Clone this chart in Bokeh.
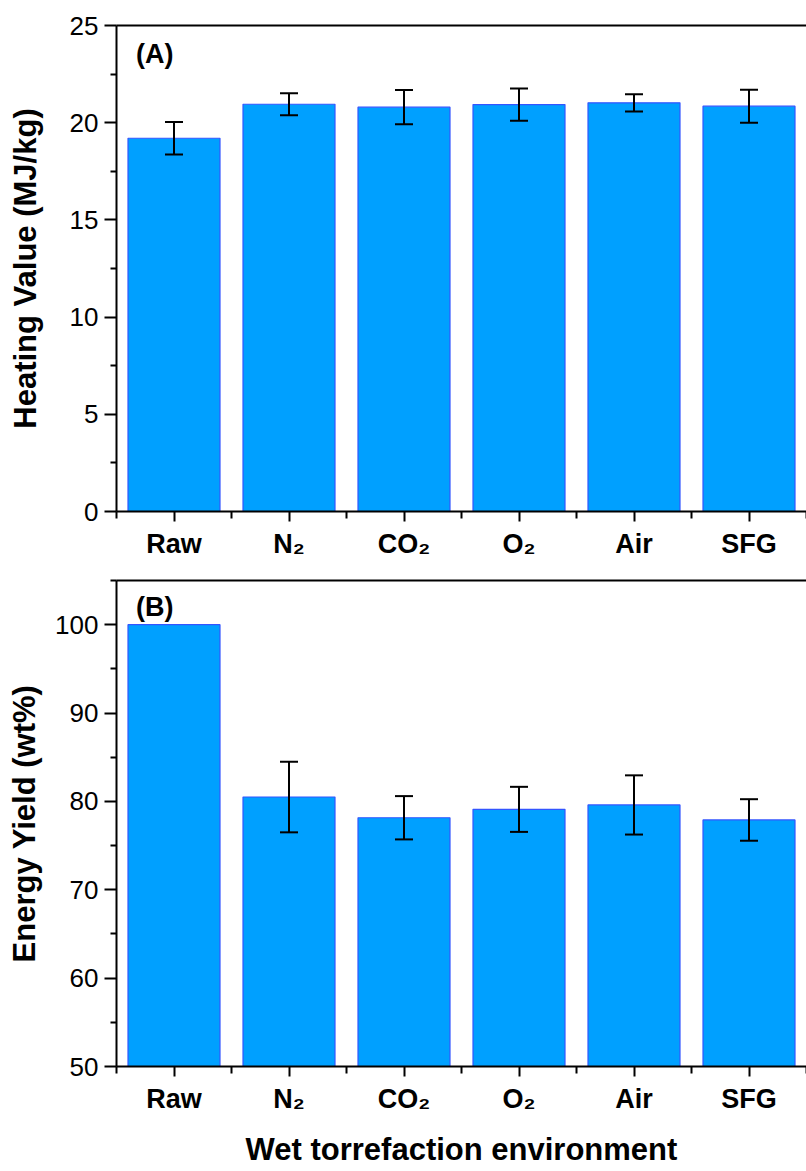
from bokeh.plotting import figure
from bokeh.models import (Range1d, FixedTicker, LinearAxis, Whisker, TeeHead,
                          ColumnDataSource, Label)
from bokeh.layouts import column
from bokeh.embed import file_html
from bokeh.resources import INLINE

# ---------------- data ----------------
categories = ["Raw", "N\u2082", "CO\u2082", "O\u2082", "Air", "SFG"]
heating_value = [19.2, 20.95, 20.8, 20.93, 21.02, 20.85]
heating_err = [0.83, 0.57, 0.88, 0.83, 0.44, 0.85]
energy_yield = [100.0, 80.5, 78.15, 79.1, 79.6, 77.9]
energy_err = [0.0, 4.0, 2.45, 2.55, 3.35, 2.35]

hv_ticks = [0, 5, 10, 15, 20, 25]
hv_minor = [2.5, 7.5, 12.5, 17.5, 22.5]
ey_ticks = [50, 60, 70, 80, 90, 100]
ey_minor = [55, 65, 75, 85, 95, 105]

FONT = "Liberation Sans"
BAR_FILL = "#00A0FF"
BAR_LINE = "#3355FF"


def make_panel(values, errors, y_range, yticks, yminor, ylabel, tag, tag_y,
               ylabel_standoff, xlabel, mb_top, mb_bottom):
    n = len(categories)
    xs = list(range(n))
    p = figure(frame_width=690, frame_height=486,
               x_range=Range1d(-0.5, n - 0.5), y_range=Range1d(*y_range),
               output_backend="svg", toolbar_location=None,
               min_border_left=116, min_border_right=0,
               min_border_top=mb_top, min_border_bottom=mb_bottom)
    p.outline_line_color = None
    p.xgrid.visible = False
    p.ygrid.visible = False
    p.background_fill_color = "white"
    p.border_fill_color = "white"

    p.vbar(x=xs, top=values, bottom=y_range[0], width=0.8,
           fill_color=BAR_FILL, line_color=BAR_LINE, line_width=1.2)

    ex = [x for x, e in zip(xs, errors) if e > 0]
    eu = [v + e for v, e in zip(values, errors) if e > 0]
    el = [v - e for v, e in zip(values, errors) if e > 0]
    src = ColumnDataSource(dict(x=ex, upper=eu, lower=el))
    w = Whisker(source=src, base="x", upper="upper", lower="lower",
                line_width=2, line_color="black",
                upper_head=TeeHead(size=18, line_width=2, line_color="black"),
                lower_head=TeeHead(size=18, line_width=2, line_color="black"))
    w.level = "overlay"
    p.add_layout(w)

    # x axis
    xa = p.xaxis[0]
    xa.ticker = FixedTicker(ticks=xs, minor_ticks=[i - 0.5 for i in range(n + 1)])
    xa.major_label_overrides = {i: c for i, c in enumerate(categories)}
    xa.major_label_text_font = FONT
    xa.major_label_text_font_style = "bold"
    xa.major_label_text_font_size = "27px"
    xa.major_label_text_color = "black"
    xa.major_label_standoff = 7
    xa.axis_line_width = 2
    xa.major_tick_line_width = 2
    xa.minor_tick_line_width = 2
    xa.major_tick_out = 10
    xa.major_tick_in = 0
    xa.minor_tick_out = 7
    xa.minor_tick_in = 0
    if xlabel:
        xa.axis_label = xlabel
        xa.axis_label_text_font = FONT
        xa.axis_label_text_font_style = "bold"
        xa.axis_label_text_font_size = "31px"
        xa.axis_label_text_color = "black"
        xa.axis_label_standoff = 15

    # y axis
    ya = p.yaxis[0]
    ya.ticker = FixedTicker(ticks=yticks, minor_ticks=yminor)
    ya.major_label_text_font = FONT
    ya.major_label_text_font_size = "26px"
    ya.major_label_text_color = "black"
    ya.major_label_standoff = 6
    ya.axis_line_width = 2
    ya.major_tick_line_width = 2
    ya.minor_tick_line_width = 2
    ya.major_tick_out = 12
    ya.major_tick_in = 0
    ya.minor_tick_out = 6
    ya.minor_tick_in = 0
    ya.axis_label = ylabel
    ya.axis_label_text_font = FONT
    ya.axis_label_text_font_style = "bold"
    ya.axis_label_text_font_size = "31px"
    ya.axis_label_text_color = "black"
    ya.axis_label_standoff = ylabel_standoff

    # top box line
    top = LinearAxis(ticker=FixedTicker(ticks=[]), major_tick_out=0,
                     major_tick_in=0, major_label_standoff=0,
                     axis_line_width=2, major_label_text_font_size="0px")
    p.add_layout(top, "above")

    p.add_layout(Label(x=-0.5 + 0.17, y=tag_y, text=tag, text_font=FONT,
                       text_font_style="bold", text_font_size="27px",
                       text_color="black", text_baseline="alphabetic"))
    return p


p1 = make_panel(heating_value, heating_err, (0, 25), hv_ticks, hv_minor,
                "Heating Value (MJ/kg)", "(A)", 23.55, 24, None, 25, 50)
p2 = make_panel(energy_yield, energy_err, (50, 105), ey_ticks, ey_minor,
                "Energy Yield (wt%)", "(B)", 102.0, 10,
                "Wet torrefaction environment", 19, 105)

layout = column(p1, p2, spacing=0)
open("out.html", "w").write(file_html(layout, INLINE))
